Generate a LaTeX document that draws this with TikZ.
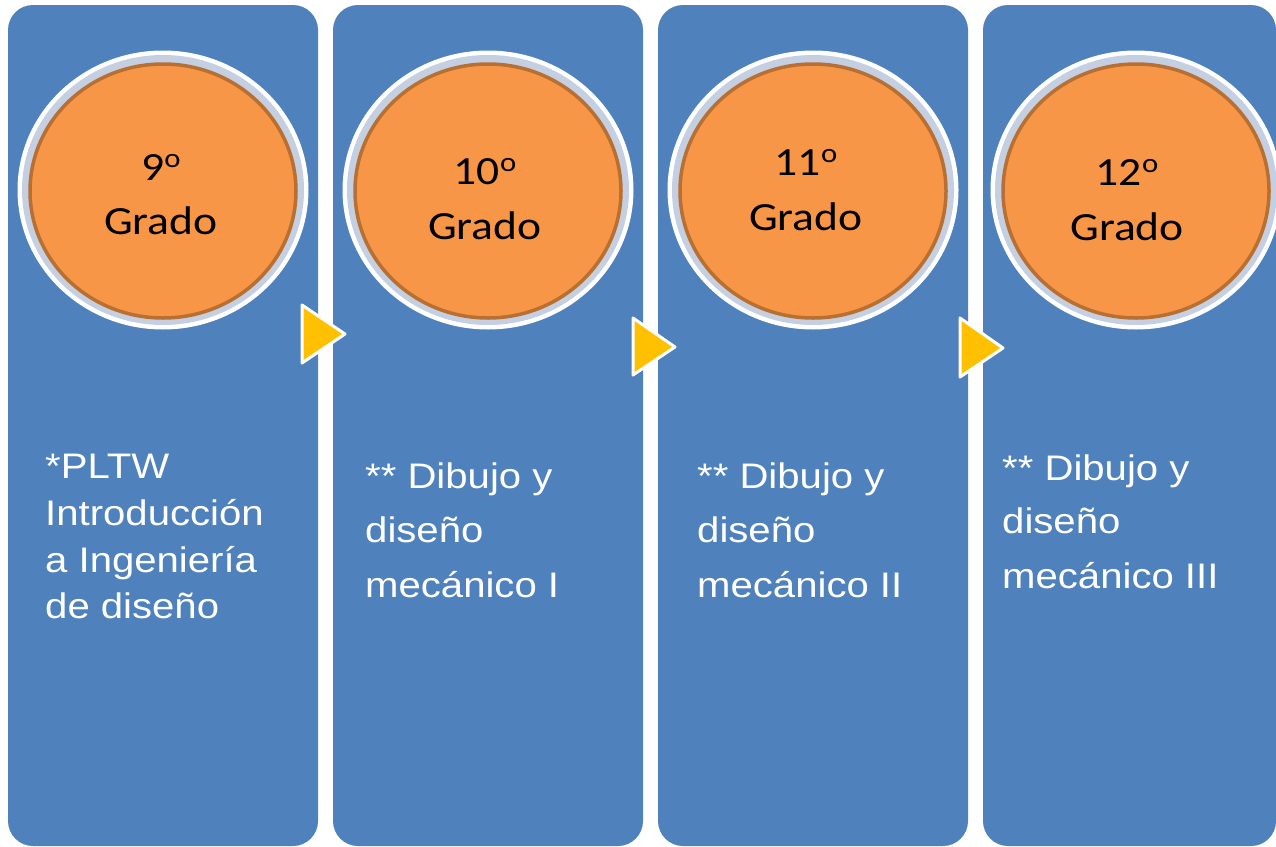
\documentclass[tikz,border=0pt]{standalone}
\usepackage{fontspec}
\usetikzlibrary{shapes.geometric}
\newfontfamily\panelfont[FakeStretch=1.13]{Liberation Sans}
\newfontfamily\circfont[FakeStretch=1.14]{Carlito}
\definecolor{panelblue}{HTML}{4F81BD}
\definecolor{discorange}{HTML}{F79646}
\definecolor{discbrown}{HTML}{B86F32}
\definecolor{ringblue}{HTML}{C4CFE2}
\definecolor{arrowyellow}{HTML}{FFC000}
\tikzset{
  panelbox/.style={fill=panelblue, rounded corners=25pt},
  outerring/.style={ellipse, fill=white, minimum width=291pt, minimum height=279pt, inner sep=0pt},
  innerring/.style={ellipse, fill=ringblue, minimum width=282pt, minimum height=270pt, inner sep=0pt},
  disc/.style={ellipse, fill=discorange, draw=discbrown, line width=3.5pt, minimum width=266pt, minimum height=254pt, inner sep=0pt},
  circtext/.style={anchor=base, inner sep=0pt, text=black, font=\circfont\fontsize{40pt}{48pt}\selectfont},
  paneltext/.style={anchor=base west, inner sep=0pt, text=white, font=\panelfont\fontsize{35.5pt}{42pt}\selectfont},
  chevron/.style={fill=arrowyellow, draw=white, line width=3pt, line join=round}
}
\newcommand{\ordo}{\raisebox{0.32em}{\fontsize{27pt}{27pt}\selectfont o}}
\begin{document}
\begin{tikzpicture}[x=1pt,y=-1pt]
\useasboundingbox (0,0) rectangle (1276,846);
\fill[white] (0,0) rectangle (1276,846);
% panels
\path[panelbox] (8,5) rectangle (318,846);
\path[panelbox] (333,5) rectangle (643,846);
\path[panelbox] (658,5) rectangle (968,846);
\path[panelbox] (983,5) rectangle (1276,846);
% discs
\foreach \n/\cx in {a/163,b/488,c/813,d/1136}{
  \node[outerring] (o\n) at (\cx,190) {};
  \node[innerring] (r\n) at (\cx,190) {};
  \node[disc] (d\n) at (\cx,191) {};
}
% disc labels
\node[circtext] (ta1) at (161,180) {9\ordo};
\node[circtext] (ta2) at (161,234) {Grado};
\node[circtext] (tb1) at (485,184) {10\ordo};
\node[circtext] (tb2) at (485,239) {Grado};
\node[circtext] (tc1) at (806,175) {11\ordo};
\node[circtext] (tc2) at (806,230) {Grado};
\node[circtext] (td1) at (1127,185) {12\ordo};
\node[circtext] (td2) at (1127,240) {Grado};
% arrows
\draw[chevron] (302,305) -- (345,334) -- (302,363) -- cycle;
\draw[chevron] (633,318) -- (675,347) -- (633,375) -- cycle;
\draw[chevron] (960,318) -- (1003,348) -- (960,377) -- cycle;
% panel texts
\node[paneltext] (p1a) at (45,478) {*PLTW};
\node[paneltext] (p1b) at (45,525) {Introducción};
\node[paneltext] (p1c) at (45,572) {a Ingeniería};
\node[paneltext] (p1d) at (45,618) {de diseño};
\node[paneltext] (p2a) at (365,488) {** Dibujo y};
\node[paneltext] (p2b) at (365,542) {diseño};
\node[paneltext] (p2c) at (365,597) {mecánico I};
\node[paneltext] (p3a) at (697,488) {** Dibujo y};
\node[paneltext] (p3b) at (697,542) {diseño};
\node[paneltext] (p3c) at (697,597) {mecánico II};
\node[paneltext] (p4a) at (1002,480) {** Dibujo y};
\node[paneltext] (p4b) at (1002,533) {diseño};
\node[paneltext] (p4c) at (1002,588) {mecánico III};
\end{tikzpicture}
\end{document}
